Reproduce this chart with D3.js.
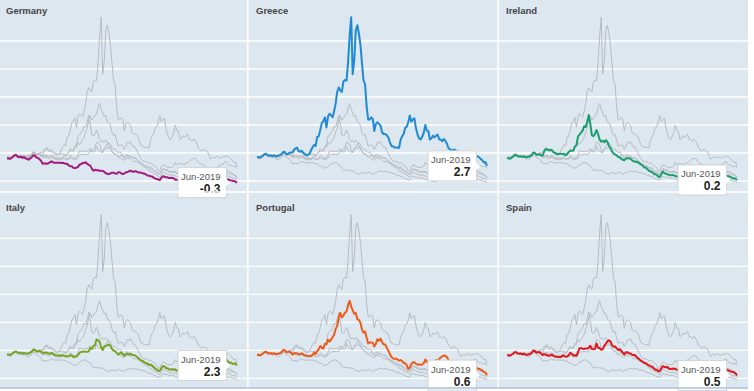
<!DOCTYPE html>
<html><head><meta charset="utf-8">
<script src="https://cdn.jsdelivr.net/npm/d3@7"></script>
<style>body{margin:0;background:#fff;} svg{display:block;font-family:"Liberation Sans",Arial,sans-serif;}</style>
</head><body><svg id="chart" width="754" height="391"></svg>
<script>
// ---- data: monthly 10-year government bond yields (%), Jan 2007 – Jun 2019 ----
const countries = ["Germany", "Greece", "Ireland", "Italy", "Portugal", "Spain"];
const colors = ["#a3197d", "#1f8ad4", "#1a9e6e", "#76a321", "#ee5a18", "#e2161c"];
const yTicks = [0, 5, 10, 15, 20, 25];
const dateLabelFormat = "%b-%Y";

const germany = [
 4.02,4.05,3.94,4.15,4.32,4.60,4.61,4.32,4.25,4.35,4.13,4.27,
 4.03,3.95,3.80,4.03,4.22,4.58,4.57,4.19,4.14,3.90,3.61,3.10,
 3.13,3.15,3.05,3.18,3.40,3.49,3.32,3.26,3.26,3.24,3.28,3.23,
 3.27,3.17,3.09,3.08,2.78,2.63,2.64,2.35,2.30,2.38,2.53,2.91,
 3.02,3.23,3.22,3.34,3.06,2.89,2.74,2.21,1.83,2.00,1.91,1.92,
 1.82,1.85,1.81,1.64,1.37,1.30,1.21,1.35,1.49,1.47,1.35,1.31,
 1.56,1.57,1.38,1.23,1.33,1.55,1.56,1.74,1.85,1.69,1.64,1.76,
 1.69,1.53,1.52,1.48,1.35,1.32,1.17,0.98,0.95,0.83,0.79,0.60,
 0.42,0.35,0.26,0.16,0.58,0.84,0.76,0.65,0.65,0.52,0.52,0.56,
 0.51,0.22,0.23,0.17,0.16,0.01,-0.09,-0.09,-0.06,0.04,0.24,0.28,
 0.35,0.31,0.41,0.25,0.37,0.29,0.54,0.42,0.43,0.44,0.36,0.37,
 0.58,0.71,0.58,0.55,0.48,0.36,0.34,0.34,0.44,0.45,0.36,0.25,
 0.19,0.11,0.05,0.00,-0.12,-0.29];

const greece = [
 4.28,4.30,4.20,4.40,4.55,4.84,4.86,4.60,4.56,4.58,4.45,4.60,
 4.45,4.45,4.58,4.67,4.82,5.21,5.16,4.78,4.82,5.03,5.07,5.15,
 5.60,5.87,5.96,5.31,5.21,5.37,5.00,4.74,4.57,4.63,4.84,5.49,
 6.02,6.46,6.24,7.83,7.97,9.10,10.34,10.70,11.34,9.57,11.52,12.01,
 11.73,11.40,12.44,13.86,15.94,16.69,16.15,15.90,17.78,18.04,17.92,21.14,
 25.91,29.24,19.07,21.48,26.90,27.82,26.34,24.34,20.91,17.96,17.20,13.33,
 10.96,10.96,11.36,11.09,8.94,10.20,10.50,10.20,9.90,8.70,8.40,8.40,
 8.20,7.80,7.00,6.30,6.20,6.00,6.00,6.00,5.90,7.30,8.00,8.40,
 9.50,9.70,10.50,11.70,10.60,11.00,11.20,9.40,8.30,7.60,7.40,7.90,
 8.60,10.00,9.00,8.90,7.40,7.60,8.10,7.80,8.10,8.30,7.40,7.40,
 7.10,7.50,7.20,6.70,5.90,5.70,5.30,5.60,5.60,5.40,5.20,4.40,
 3.90,4.20,4.30,4.10,4.40,4.40,4.00,4.20,4.30,4.30,4.40,4.40,
 4.20,3.90,3.70,3.30,3.40,2.70];

const ireland = [
 4.05,4.08,3.98,4.18,4.35,4.63,4.62,4.40,4.38,4.40,4.30,4.43,
 4.23,4.27,4.33,4.45,4.61,5.03,5.03,4.70,4.70,4.77,4.58,4.55,
 5.21,5.70,5.63,5.48,5.58,5.54,5.18,5.04,4.91,4.77,4.86,4.86,
 4.80,4.85,4.61,4.79,5.19,5.41,5.38,5.44,6.21,6.38,7.97,8.27,
 8.63,9.04,9.79,9.63,10.57,11.80,10.20,8.20,8.00,8.40,9.10,8.40,
 7.40,7.00,7.20,6.90,7.30,7.00,6.30,5.90,5.30,4.90,4.70,4.60,
 4.30,4.20,4.00,3.80,3.70,4.00,4.10,4.00,4.00,3.70,3.50,3.50,
 3.40,3.30,3.10,2.90,2.70,2.40,2.40,2.10,1.80,1.70,1.60,1.30,
 1.20,1.10,0.80,0.70,1.20,1.70,1.40,1.30,1.20,1.10,1.00,1.10,
 1.00,0.90,0.80,0.70,0.80,0.60,0.40,0.40,0.40,0.50,0.90,0.90,
 1.10,1.10,1.10,0.90,0.80,0.70,0.90,0.70,0.70,0.60,0.60,0.60,
 0.80,1.10,1.00,0.90,0.90,0.90,0.80,0.90,1.00,1.00,0.90,0.90,
 0.80,0.70,0.50,0.50,0.40,0.18];

const italy = [
 4.24,4.27,4.15,4.33,4.50,4.76,4.79,4.59,4.56,4.57,4.41,4.55,
 4.44,4.41,4.45,4.58,4.75,5.13,5.10,4.82,4.85,4.93,4.82,4.57,
 4.53,4.60,4.57,4.42,4.43,4.54,4.38,4.15,4.11,4.05,4.11,4.03,
 4.09,4.05,3.90,3.96,3.94,4.10,4.06,3.82,3.86,3.88,4.17,4.55,
 4.74,4.73,4.81,4.75,4.73,4.82,5.44,5.27,5.75,5.96,6.94,6.81,
 6.54,5.56,5.05,5.68,5.78,5.90,6.00,5.82,5.23,4.96,4.86,4.54,
 4.21,4.49,4.65,4.29,4.02,4.27,4.43,4.24,4.43,4.18,4.10,4.08,
 3.86,3.64,3.37,3.18,3.07,2.85,2.73,2.64,2.37,2.47,2.29,2.02,
 1.71,1.55,1.30,1.35,1.83,2.18,2.11,1.81,1.77,1.58,1.55,1.60,
 1.53,1.56,1.32,1.42,1.52,1.47,1.22,1.13,1.23,1.42,2.01,1.95,
 2.03,2.28,2.31,2.26,2.20,2.07,2.29,2.07,2.11,2.07,1.82,1.82,
 2.02,2.03,1.92,1.78,2.26,2.78,2.65,3.05,2.94,3.44,3.45,3.05,
 2.78,2.81,2.59,2.60,2.67,2.28];

const portugal = [
 4.17,4.19,4.08,4.27,4.43,4.70,4.72,4.49,4.49,4.49,4.35,4.47,
 4.33,4.34,4.41,4.49,4.66,5.06,5.01,4.66,4.70,4.76,4.55,4.23,
 4.47,4.46,4.41,4.34,4.31,4.46,4.26,4.06,4.07,3.99,3.97,3.98,
 4.17,4.63,4.33,4.87,5.16,5.78,5.50,5.30,6.18,6.05,6.90,6.53,
 6.95,7.34,7.78,8.83,9.36,10.91,11.69,10.88,11.20,11.75,11.91,13.08,
 13.85,12.81,12.17,11.52,11.67,10.54,10.44,9.92,8.69,8.19,8.35,7.25,
 6.22,6.40,6.38,6.37,5.67,6.15,6.95,6.71,7.10,6.44,6.07,6.05,
 5.46,4.94,4.40,3.89,3.56,3.47,3.51,3.36,3.15,3.26,3.07,2.78,
 2.65,2.31,1.67,1.91,2.53,2.86,2.85,2.58,2.47,2.45,2.42,2.46,
 2.70,3.35,2.91,3.09,3.09,3.08,3.00,2.87,3.28,3.22,3.46,3.70,
 3.92,4.06,4.02,3.79,3.28,3.04,3.07,2.86,2.77,2.39,1.97,1.94,
 1.95,1.98,1.78,1.64,1.77,1.93,1.79,1.89,1.88,1.93,1.90,1.74,
 1.67,1.53,1.36,1.16,1.00,0.57];

const spain = [
 4.10,4.13,4.02,4.21,4.38,4.65,4.67,4.42,4.38,4.43,4.26,4.40,
 4.20,4.20,4.24,4.34,4.52,4.92,4.88,4.58,4.64,4.65,4.41,4.14,
 4.30,4.21,4.12,3.99,4.06,4.23,4.04,3.89,3.87,3.78,3.80,3.81,
 4.05,4.04,3.84,3.89,4.09,4.56,4.38,4.08,4.12,4.03,4.65,5.38,
 5.38,5.26,5.25,5.33,5.32,5.48,5.82,5.24,5.20,5.25,6.19,5.47,
 5.40,5.11,5.17,5.79,6.13,6.59,6.79,6.58,5.92,5.65,5.69,5.34,
 5.05,5.22,4.92,4.59,4.25,4.67,4.67,4.50,4.42,4.22,4.11,4.15,
 3.78,3.56,3.31,3.12,2.95,2.72,2.70,2.44,2.25,2.12,2.07,1.79,
 1.54,1.51,1.23,1.31,1.78,2.20,2.03,1.98,2.01,1.71,1.66,1.73,
 1.72,1.72,1.51,1.55,1.59,1.52,1.18,1.03,1.01,1.08,1.46,1.48,
 1.50,1.70,1.67,1.61,1.57,1.43,1.61,1.47,1.62,1.62,1.48,1.46,
 1.48,1.53,1.37,1.26,1.39,1.38,1.32,1.39,1.44,1.61,1.56,1.47,
 1.31,1.21,1.16,1.08,0.93,0.50];

const seriesValues = [germany, greece, ireland, italy, portugal, spain];
const months = d3.timeMonth.range(new Date(2007, 0, 1), new Date(2019, 6, 1));

// ---- layout ----
const colW = 250, rowH = 197.3;
const bg = "#dde7f0";
const svg = d3.select("#chart");

svg.append("rect").attr("x", 0).attr("y", 0).attr("width", 748).attr("height", 388).attr("fill", bg);

const x = d3.scaleTime().domain([months[0], months[months.length - 1]]).range([7, 237]);
const y = d3.scaleLinear().domain([0, 25]).range([181, 41]);
const line = d3.line().x((d, i) => x(months[i])).y(d => y(d));
const fmt = d3.timeFormat(dateLabelFormat);

countries.forEach((name, k) => {
  const col = k % 3, row = Math.floor(k / 3);
  const g = svg.append("g").attr("transform", `translate(${col * colW},${row * rowH})`);

  g.selectAll("line.grid").data(yTicks).join("line")
    .attr("x1", col === 0 ? 0 : -2).attr("x2", 248)
    .attr("y1", d => y(d)).attr("y2", d => y(d))
    .attr("stroke", "#ffffff").attr("stroke-width", 1.3);

  seriesValues.forEach((vals, j) => {
    if (j === k) return;
    g.append("path").datum(vals).attr("d", line)
      .attr("fill", "none").attr("stroke", "#b7bcc1").attr("stroke-width", 1)
      .attr("stroke-linejoin", "round");
  });
  const vals = seriesValues[k];
  g.append("path").datum(vals).attr("d", line)
    .attr("fill", "none").attr("stroke", colors[k]).attr("stroke-width", 2)
    .attr("stroke-linejoin", "round");

  g.append("text").attr("x", 6).attr("y", 14)
    .attr("font-size", 9.5).attr("font-weight", "bold").attr("fill", "#454545")
    .text(name);

  // end-value callout
  const last = vals.length - 1;
  const ex = x(months[last]), ey = y(vals[last]);
  const bw = 48.5, bh = 30;
  const tg = g.append("g").attr("transform", `translate(${ex - 10.5 - bw},${ey - bh / 2})`);
  tg.append("rect").attr("width", bw).attr("height", bh)
    .attr("fill", "#ffffff").attr("stroke", "#cfd5da").attr("stroke-width", 1);
  tg.append("path").attr("d", `M${bw - 0.5},${bh / 2 - 4} L${bw + 3.5},${bh / 2} L${bw - 0.5},${bh / 2 + 4} Z`)
    .attr("fill", "#ffffff");
  tg.append("text").attr("x", bw - 6).attr("y", 12.5).attr("text-anchor", "end")
    .attr("font-size", 9.5).attr("fill", "#555").text(fmt(months[last]));
  tg.append("text").attr("x", bw - 6).attr("y", 25.5).attr("text-anchor", "end")
    .attr("font-size", 12).attr("font-weight", "bold").attr("fill", "#222")
    .text(vals[last].toFixed(1));
});

// panel separators
[247.8, 498.2].forEach(sx => svg.append("line").attr("x1", sx).attr("x2", sx)
  .attr("y1", 0).attr("y2", 388).attr("stroke", "#ffffff").attr("stroke-width", 1.6));
svg.append("line").attr("x1", 0).attr("x2", 748).attr("y1", 192).attr("y2", 192)
  .attr("stroke", "#ffffff").attr("stroke-width", 1.6);
svg.append("line").attr("x1", 0).attr("x2", 748).attr("y1", 388).attr("y2", 388)
  .attr("stroke", "#a9c1dc").attr("stroke-width", 1.5);
</script>
</body></html>
